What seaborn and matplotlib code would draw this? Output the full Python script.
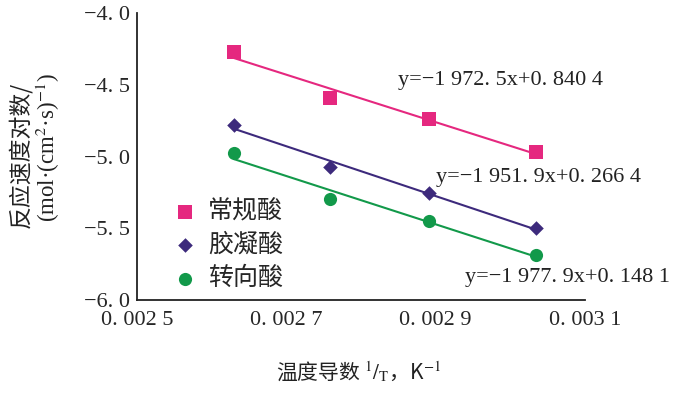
import numpy as np
import pandas as pd
import matplotlib
matplotlib.use("Agg")
import matplotlib.pyplot as plt
import seaborn as sns

# data
inv_t = [0.00263, 0.002758, 0.002891, 0.003035]
y_normal = [-4.270, -4.594, -4.739, -4.967]     # 常规酸
y_gel = [-4.780, -5.071, -5.256, -5.500]        # 胶凝酸
y_turn = [-4.978, -5.298, -5.447, -5.686]       # 转向酸
names = ["常规酸", "胶凝酸", "转向酸"]
equations = ["y=\u22121 972. 5x+0. 840 4", "y=\u22121 951. 9x+0. 266 4", "y=\u22121 977. 9x+0. 148 1"]
xticks = [0.0025, 0.0027, 0.0029, 0.0031]
xtick_labels = ["0. 002 5", "0. 002 7", "0. 002 9", "0. 003 1"]
yticks = [-4.0, -4.5, -5.0, -5.5, -6.0]
ytick_labels = ["\u22124. 0", "\u22124. 5", "\u22125. 0", "\u22125. 5", "\u22126. 0"]

colors = ["#E5287F", "#3D2A7C", "#12994A"]
markers = ["s", "D", "o"]
msizes = [90, 55, 90]

df = pd.DataFrame({
    "x": inv_t * 3,
    "y": y_normal + y_gel + y_turn,
    "group": np.repeat(names, 4),
})

sns.set_style("white")
plt.rcParams["mathtext.fontset"] = "stix"
serif = "Liberation Serif"
cjk = ["Noto Sans CJK SC", "DejaVu Sans"]

fig = plt.figure(figsize=(7, 3.96), dpi=100)
ax = fig.add_axes([137 / 700, 96 / 396, 448 / 700, 287 / 396])

for name, c, m, s in zip(names, colors, markers, msizes):
    sub = df[df["group"] == name]
    sns.regplot(data=sub, x="x", y="y", ax=ax, ci=None, color=c, marker=m,
                label=name, scatter_kws={"s": s, "alpha": 1, "linewidths": 0},
                line_kws={"lw": 1.5})

ax.set_xlim(0.0025, 0.0031)
ax.set_ylim(-6.0, -4.0)
ax.set_xticks(xticks)
ax.set_xticklabels(xtick_labels, fontfamily=serif, fontsize=16)
ax.set_yticks(yticks)
ax.set_yticklabels(ytick_labels, fontfamily=serif, fontsize=16)
ax.tick_params(direction="in", length=6, width=1.2, color="#222222", pad=5)
ax.tick_params(axis="x", pad=8)
for side in ["top", "right"]:
    ax.spines[side].set_visible(False)
for side in ["left", "bottom"]:
    ax.spines[side].set_color("#222222")
    ax.spines[side].set_linewidth(1.3)
ax.set_xlabel("")
ax.set_ylabel("")

# equations of the fitted lines
eq_pos = [(0.00285, -4.472), (0.0029006, -5.148), (0.002939, -5.845)]
for (ex, ey), txt in zip(eq_pos, equations):
    ax.text(ex, ey, txt, fontfamily=serif, fontsize=16, color="#222222",
            ha="left", va="center", clip_on=False)

leg = ax.legend(loc="upper left", bbox_to_anchor=(0.055, 0.39), frameon=False,
                prop={"family": cjk, "size": 18}, handletextpad=0.35,
                labelspacing=0.3, borderaxespad=0, handlelength=1.1)

# axis titles
fig.text(20 / 700, 1 - 155 / 396, "反应速度对数/", rotation=90, ha="center",
         va="center", fontfamily=cjk, fontsize=16.5, color="#222222")
fig.text(48 / 700, 1 - 148 / 396, "(mol·(cm$^2$·s)$^{-1}$)", rotation=90,
         ha="center", va="center", fontfamily=serif, fontsize=16.5, color="#222222")
fig.text(358 / 700, 1 - 372 / 396, r"温度导数 $^{1}/_{\mathrm{T}}$，K$^{-1}$",
         ha="center", va="center", fontfamily="Noto Sans CJK SC", fontsize=15,
         color="#222222")

fig.savefig("out.png", dpi=100)
